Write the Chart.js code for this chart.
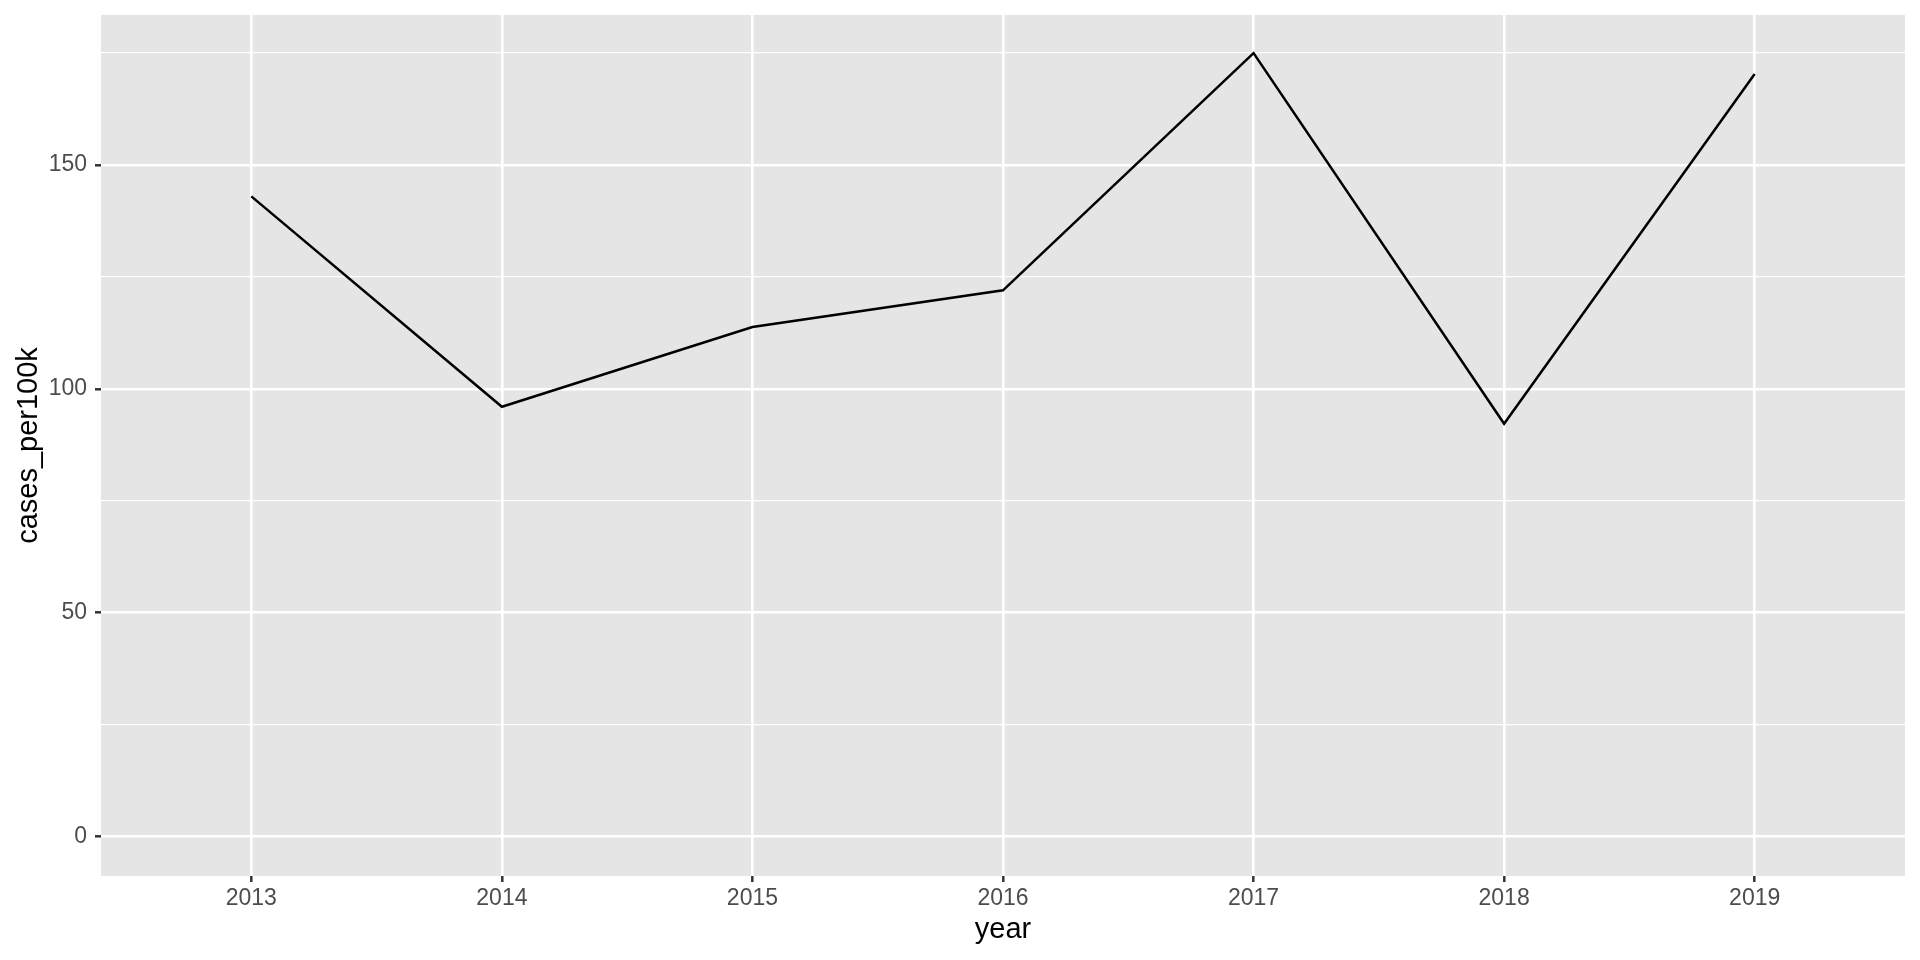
<!DOCTYPE html>
<html>
<head>
<meta charset="utf-8">
<script src="https://cdn.jsdelivr.net/npm/chart.js@4/dist/chart.umd.min.js"></script>
<style>
  html, body { margin: 0; padding: 0; background: #ffffff; }
  canvas { display: block; }
</style>
</head>
<body>
<canvas id="myChart" width="1920" height="960"></canvas>
<script>
const years = [2013, 2014, 2015, 2016, 2017, 2018, 2019];
const casesPer100k = [143, 96, 113.8, 122, 175, 92.2, 170.3];
const yMajorTicks = [0, 50, 100, 150];
const yMinorTicks = [25, 75, 125, 175];
const xTicks = years;

const FONT = '"Liberation Sans", Arial, Helvetica, sans-serif';

// grey panel behind the plot, like ggplot's theme_gray
const panelBackground = {
    id: 'panelBackground',
    beforeDraw(chart) {
        const { ctx, chartArea: a } = chart;
        ctx.save();
        ctx.fillStyle = '#e5e5e5';
        ctx.fillRect(a.left, a.top, a.right - a.left, a.bottom - a.top);
        ctx.restore();
    }
};

const isMajor = v => yMajorTicks.includes(v);

const ctx = document.getElementById('myChart').getContext('2d');

new Chart(ctx, {
    type: 'line',
    data: {
        datasets: [{
            label: 'cases_per100k',
            data: years.map((y, i) => ({ x: y, y: casesPer100k[i] })),
            borderColor: '#000000',
            borderWidth: 2.5,
            pointRadius: 0,
            tension: 0,
            fill: false
        }]
    },
    options: {
        responsive: false,
        animation: false,
        events: [],
        layout: { padding: { left: 0, top: 15, right: 15, bottom: 0 } },
        plugins: {
            legend: { display: false },
            tooltip: { enabled: false }
        },
        scales: {
            x: {
                type: 'linear',
                min: 2012.4,
                max: 2019.6,
                afterBuildTicks(scale) {
                    scale.ticks = xTicks.map(v => ({ value: v }));
                },
                afterFit(scale) {
                    scale.height = 84;
                    scale.paddingLeft = 0;
                    scale.paddingRight = 0;
                },
                border: { display: false },
                grid: {
                    color: '#ffffff',
                    lineWidth: 2.6,
                    tickLength: 6,
                    tickWidth: 2.5,
                    tickColor: '#333333'
                },
                ticks: {
                    color: '#4d4d4d',
                    padding: 3,
                    maxRotation: 0,
                    autoSkip: false,
                    font: { family: FONT, size: 23 },
                    callback: v => String(v)
                },
                title: {
                    display: true,
                    text: 'year',
                    color: '#000000',
                    padding: { top: 0, bottom: 12.6 },
                    font: { family: FONT, size: 29 }
                }
            },
            y: {
                type: 'linear',
                min: -8.8,
                max: 183.5,
                afterBuildTicks(scale) {
                    scale.ticks = yMajorTicks.concat(yMinorTicks)
                        .sort((a, b) => a - b)
                        .map(v => ({ value: v }));
                },
                afterFit(scale) {
                    scale.width = 101;
                    scale.paddingTop = 0;
                    scale.paddingBottom = 0;
                },
                border: { display: false },
                grid: {
                    color: '#ffffff',
                    lineWidth: c => isMajor(c.tick.value) ? 2.6 : 1.3,
                    tickLength: 6,
                    tickWidth: 2.5,
                    tickColor: c => isMajor(c.tick.value) ? '#333333' : 'rgba(0,0,0,0)'
                },
                ticks: {
                    color: '#4d4d4d',
                    padding: 8,
                    autoSkip: false,
                    font: { family: FONT, size: 23 },
                    callback: v => isMajor(v) ? String(v) : ''
                },
                title: {
                    display: true,
                    text: 'cases_per100k',
                    color: '#000000',
                    padding: { top: 11.6, bottom: 0 },
                    font: { family: FONT, size: 29 }
                }
            }
        }
    },
    plugins: [panelBackground]
});
</script>
</body>
</html>
